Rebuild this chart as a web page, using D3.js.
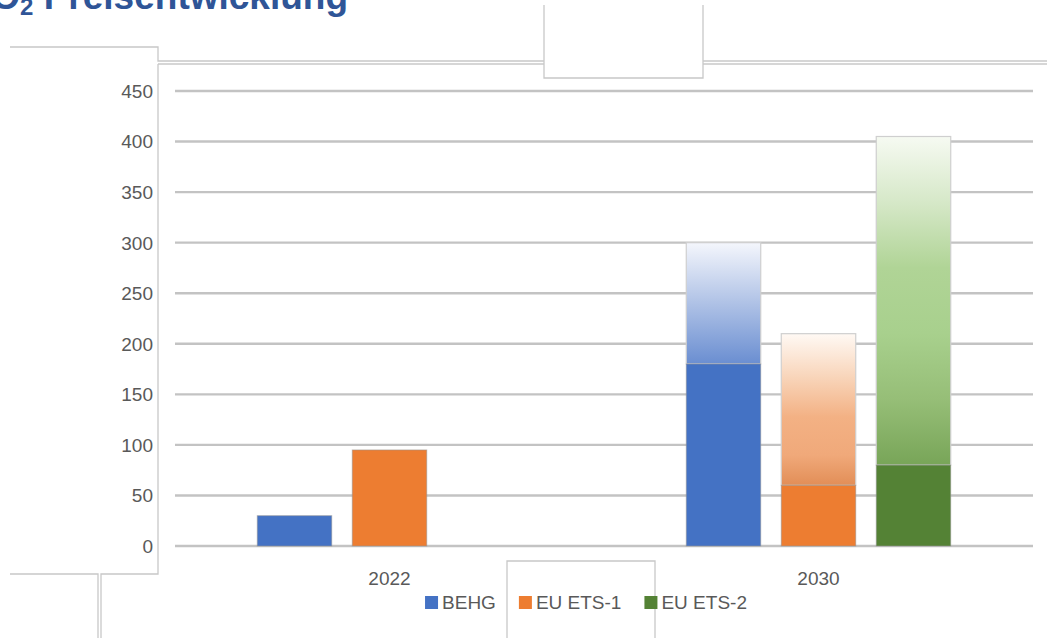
<!DOCTYPE html>
<html lang="de">
    <head>
        <meta charset="utf-8" />
        <title>CO2 Preisentwicklung</title>
        <script type="text/javascript" src="https://cdn.jsdelivr.net/npm/d3@7"></script>
        <style type="text/css">
            html, body {
                margin: 0;
                padding: 0;
                background: #ffffff;
                overflow: hidden;
            }
            svg {
                display: block;
                font-family: "Liberation Sans", Arial, sans-serif;
            }
        </style>
    </head>
    <body>
        <script type="text/javascript">
            // data
            var categories = ["2022", "2030"];
            var seriesNames = ["BEHG", "EU ETS-1", "EU ETS-2"];
            // fixed price part (solid bar)
            var behg = [30, 180];
            var euEts1 = [95, 60];
            var euEts2 = [null, 80];
            // upper end of the expected range (faded bar)
            var behgMax = [null, 300];
            var euEts1Max = [null, 210];
            var euEts2Max = [null, 405];
            var yTicks = [0, 50, 100, 150, 200, 250, 300, 350, 400, 450];

            var w = 1047;
            var h = 638;
            // note: "top" is taken by window.top, so plot* names
            var plotLeft = 175, plotRight = 1033, plotTop = 91, plotBottom = 546;
            var grey = "#595959";

            var colors = ["#4472c4", "#ed7d31", "#548235"];
            var gradStops = [
                [["0%", "#f4f6fc"], ["45%", "#b6c7e8"], ["100%", "#6a8ed1"]],
                [["0%", "#fff9f4"], ["30%", "#f8d3b7"], ["55%", "#f3b184"], ["80%", "#f0a97a"], ["100%", "#e28e57"]],
                [["0%", "#f6faf2"], ["20%", "#d6e8c8"], ["40%", "#b0d496"], ["60%", "#a8d08d"], ["80%", "#96be77"], ["100%", "#78a558"]]
            ];

            var baseBySeries = [behg, euEts1, euEts2];
            var maxBySeries = [behgMax, euEts1Max, euEts2Max];
            var rows = [];
            categories.forEach(function(c, ci) {
                seriesNames.forEach(function(s, si) {
                    rows.push({
                        cat: c,
                        series: s,
                        si: si,
                        base: baseBySeries[si][ci],
                        max: maxBySeries[si][ci]
                    });
                });
            });

            var x0 = d3.scaleBand().domain(categories).range([plotLeft, plotRight]).padding(0);
            var x1 = d3
                .scaleBand()
                .domain(seriesNames)
                .range([0, x0.bandwidth()])
                .paddingInner(0.216)
                .paddingOuter(0.866);
            var y = d3.scaleLinear().domain([0, 450]).range([plotBottom, plotTop]);

            var svg = d3
                .select("body")
                .append("svg")
                .attr("width", w)
                .attr("height", h);

            var defs = svg.append("defs");
            gradStops.forEach(function(stops, i) {
                var g = defs
                    .append("linearGradient")
                    .attr("id", "grad" + i)
                    .attr("x1", 0)
                    .attr("y1", 0)
                    .attr("x2", 0)
                    .attr("y2", 1);
                stops.forEach(function(st) {
                    g.append("stop").attr("offset", st[0]).attr("stop-color", st[1]);
                });
            });

            // title (cut off at the top of the screenshot)
            var title = svg
                .append("text")
                .attr("x", 348)
                .attr("y", 9)
                .attr("text-anchor", "end")
                .attr("font-weight", "bold")
                .attr("font-size", "37px")
                .attr("fill", "#2f5597");
            title.append("tspan").text("CO");
            title.append("tspan").attr("font-size", "24px").attr("dy", 6).text("2");
            title.append("tspan").attr("dy", -6).text(" Preisentwicklung");

            // leftover selection frames from the slide
            var frame = svg.append("g").attr("fill", "none").attr("stroke", "#c8c8c8").attr("stroke-width", 1.3);
            var framePaths = [
                "M10,47H158V61H544",
                "M158,64H544",
                "M703,61H1047",
                "M703,64H1047",
                "M544,5V78H703V5",
                "M158,64V574H101V638",
                "M10,574H98V638",
                "M507,638V561H655V638"
            ];
            framePaths.forEach(function(p) {
                frame.append("path").attr("d", p);
            });

            // gridlines
            svg.append("g")
                .selectAll("line")
                .data(yTicks)
                .enter()
                .append("line")
                .attr("x1", plotLeft)
                .attr("x2", plotRight)
                .attr("y1", function(d) {
                    return y(d);
                })
                .attr("y2", function(d) {
                    return y(d);
                })
                .attr("stroke", "#c3c3c3")
                .attr("stroke-width", 2.4);

            // y axis labels
            svg.append("g")
                .selectAll("text")
                .data(yTicks)
                .enter()
                .append("text")
                .attr("x", 153)
                .attr("y", function(d) {
                    return y(d);
                })
                .attr("dy", "0.36em")
                .attr("text-anchor", "end")
                .attr("font-size", "19px")
                .attr("fill", grey)
                .text(function(d) {
                    return d;
                });

            // category labels
            svg.append("g")
                .selectAll("text")
                .data(categories)
                .enter()
                .append("text")
                .attr("x", function(d) {
                    return x0(d) + x0.bandwidth() / 2;
                })
                .attr("y", 578)
                .attr("dy", "0.36em")
                .attr("text-anchor", "middle")
                .attr("font-size", "19px")
                .attr("fill", grey)
                .text(function(d) {
                    return d;
                });

            var bars = svg.append("g");

            // faded range part
            bars.selectAll("rect.range")
                .data(rows.filter(function(d) {
                    return d.max != null;
                }))
                .enter()
                .append("rect")
                .attr("class", "range")
                .attr("x", function(d) {
                    return x0(d.cat) + x1(d.series);
                })
                .attr("y", function(d) {
                    return y(d.max);
                })
                .attr("width", x1.bandwidth())
                .attr("height", function(d) {
                    return y(d.base) - y(d.max);
                })
                .attr("fill", function(d) {
                    return "url(#grad" + d.si + ")";
                })
                .attr("stroke", "#cfcfcf")
                .attr("stroke-width", 1.2);

            // solid part
            bars.selectAll("rect.base")
                .data(rows.filter(function(d) {
                    return d.base != null;
                }))
                .enter()
                .append("rect")
                .attr("class", "base")
                .attr("x", function(d) {
                    return x0(d.cat) + x1(d.series);
                })
                .attr("y", function(d) {
                    return y(d.base);
                })
                .attr("width", x1.bandwidth())
                .attr("height", function(d) {
                    return y(0) - y(d.base);
                })
                .attr("fill", function(d) {
                    return colors[d.si];
                })
                .attr("stroke", "rgba(150,150,150,0.55)")
                .attr("stroke-width", 1);

            // legend
            var legend = svg.append("g").attr("font-size", "19px").attr("fill", grey);
            var items = legend
                .selectAll("g")
                .data(seriesNames)
                .enter()
                .append("g");
            items.append("rect")
                .attr("width", 13)
                .attr("height", 13)
                .attr("y", 596)
                .attr("fill", function(d, i) {
                    return colors[i];
                });
            items.append("text")
                .attr("x", 17)
                .attr("y", 602)
                .attr("dy", "0.36em")
                .text(function(d) {
                    return d;
                });
            var widths = [];
            items.each(function() {
                widths.push(d3.select(this).select("text").node().getComputedTextLength() + 17);
            });
            var gap = 23;
            var total = d3.sum(widths) + gap * (widths.length - 1);
            var cx = 586 - total / 2;
            items.attr("transform", function(d, i) {
                var tx = cx;
                cx += widths[i] + gap;
                return "translate(" + tx + ",0)";
            });
        </script>
    </body>
</html>
